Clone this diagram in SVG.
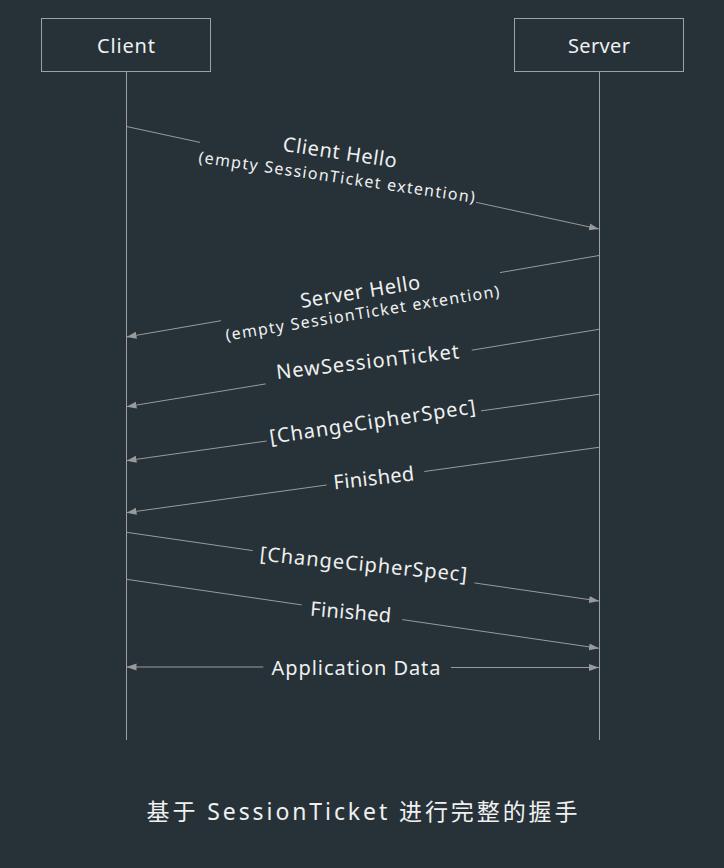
<svg xmlns="http://www.w3.org/2000/svg" width="724" height="868" viewBox="0 0 724 868">
<defs>
<marker id="ah" markerUnits="userSpaceOnUse" markerWidth="10" markerHeight="8" refX="10" refY="4" orient="auto">
<path d="M0,0.5 L10,4 L0,7.5 z" fill="#9a9a9a"/>
</marker>
</defs>
<style>
.bg{fill:#263238}
.box{fill:none;stroke:#a0a0a0;stroke-width:1}
.life{stroke:#a0a0a0;stroke-width:1;fill:none}
.msg{stroke:#9a9a9a;stroke-width:1;fill:none}
.tip{marker-end:url(#ah)}
text{font-family:"Noto Sans","Liberation Sans",sans-serif;fill:#f0f0f0;text-anchor:middle}
.lbl{font-size:20px}
.ext{font-size:16px}
.hdr{font-size:20px}
.ttl{font-size:23px;font-family:"Noto Sans","Noto Sans CJK SC",sans-serif}
</style>
<rect class="bg" x="0" y="0" width="724" height="868"/>

<g id="client">
<rect class="box" x="41.5" y="18.5" width="169" height="53"/>
<text class="hdr" x="126" y="52.5" textLength="58" lengthAdjust="spacing">Client</text>
<line class="life" x1="126.5" y1="71.5" x2="126.5" y2="740"/>
</g>
<g id="server">
<rect class="box" x="514.5" y="18.5" width="169" height="53"/>
<text class="hdr" x="599" y="52.5" textLength="62" lengthAdjust="spacing">Server</text>
<line class="life" x1="599.5" y1="71.5" x2="599.5" y2="740"/>
</g>

<g id="connectors">
<line class="msg" x1="126.5" y1="126.5" x2="200" y2="142.4"/>
<line class="msg tip" x1="476" y1="202.3" x2="599" y2="229"/>

<line class="msg" x1="599" y1="255.5" x2="500" y2="272.6"/>
<line class="msg tip" x1="221" y1="320.7" x2="126.5" y2="337"/>

<line class="msg" x1="599" y1="329.3" x2="471.7" y2="350.2"/>
<line class="msg tip" x1="265.7" y1="383.9" x2="126.5" y2="406.7"/>

<line class="msg" x1="599" y1="394.3" x2="481" y2="410.9"/>
<line class="msg tip" x1="266.7" y1="441" x2="126.5" y2="460.7"/>

<line class="msg" x1="599" y1="447.3" x2="424.3" y2="471.5"/>
<line class="msg tip" x1="326.7" y1="485" x2="126.5" y2="512.7"/>

<line class="msg" x1="126.5" y1="532.3" x2="252.7" y2="550.6"/>
<line class="msg tip" x1="474.3" y1="582.9" x2="599" y2="601"/>

<line class="msg" x1="126.5" y1="579.3" x2="301.7" y2="604.9"/>
<line class="msg tip" x1="402.3" y1="619.6" x2="599" y2="648.3"/>

<line class="msg tip" x1="263.3" y1="667" x2="126.5" y2="667"/>
<line class="msg tip" x1="451" y1="667.5" x2="599" y2="667.5"/>

<g transform="translate(340,152.3) rotate(8.5)"><text class="lbl" x="0" y="7" textLength="115" lengthAdjust="spacing">Client Hello</text></g>
<g transform="translate(336.7,178) rotate(8.3)"><text class="ext" x="0" y="4.6" textLength="279" lengthAdjust="spacing">(empty SessionTicket extention)</text></g>

<g transform="translate(360,291.5) rotate(-9.2)"><text class="lbl" x="0" y="7" textLength="121" lengthAdjust="spacing">Server Hello</text></g>
<g transform="translate(362.5,314) rotate(-9.2)"><text class="ext" x="0" y="4.6" textLength="277" lengthAdjust="spacing">(empty SessionTicket extention)</text></g>

<g transform="translate(367.5,361.7) rotate(-6.6)"><text class="lbl" x="0" y="7" textLength="184" lengthAdjust="spacing">NewSessionTicket</text></g>
<g transform="translate(372.5,423) rotate(-8.5)"><text class="lbl" x="0" y="5.6" textLength="208" lengthAdjust="spacing">[ChangeCipherSpec]</text></g>
<g transform="translate(373.8,478) rotate(-6.5)"><text class="lbl" x="0" y="7" textLength="81" lengthAdjust="spacing">Finished</text></g>
<g transform="translate(363.3,565.5) rotate(5.8)"><text class="lbl" x="0" y="5.6" textLength="208" lengthAdjust="spacing">[ChangeCipherSpec]</text></g>
<g transform="translate(350.8,612) rotate(4.9)"><text class="lbl" x="0" y="7" textLength="81" lengthAdjust="spacing">Finished</text></g>
<text class="lbl" x="356" y="674.5" textLength="169" lengthAdjust="spacing">Application Data</text>
</g>

<text class="ttl" x="362" y="820" textLength="431" lengthAdjust="spacing">基于 SessionTicket 进行完整的握手</text>
</svg>
